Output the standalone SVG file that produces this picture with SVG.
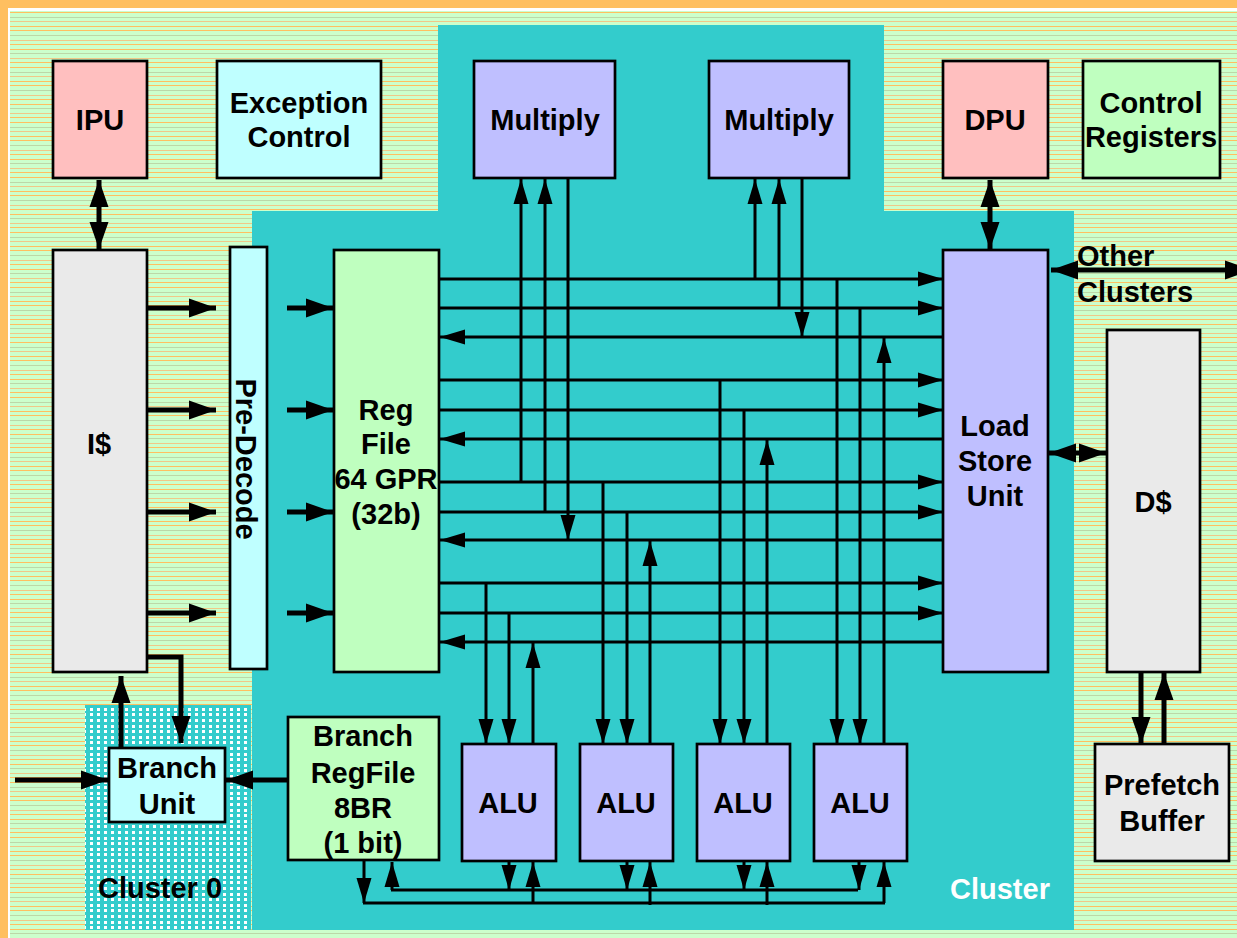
<svg xmlns="http://www.w3.org/2000/svg" width="1237" height="938" viewBox="0 0 1237 938">
<style>
.n{stroke:#000;stroke-width:2.7}
.t{font-family:"Liberation Sans",Arial,sans-serif;font-weight:700;font-size:29px;text-anchor:middle;fill:#000}
.pink{fill:#ffbfbf}.cyan{fill:#bfffff}.vio{fill:#bfbfff}.grn{fill:#bfffbf}.gry{fill:#eaeaea}
.w{fill:none;stroke:#000;stroke-width:3}
.a{marker-end:url(#h)}
.b{fill:none;stroke:#000;stroke-width:5}
.ba{marker-end:url(#H)}
.bb{marker-start:url(#Hs);marker-end:url(#H)}
.s{fill:#ffbf60}.m{fill:#f0c888}.l{fill:#bcd8a8}.d{fill:#fff}
</style>
<defs>
<pattern id="stripes" width="8" height="55" patternUnits="userSpaceOnUse" x="10" y="12">
<rect width="8" height="55" fill="#ccffcc"/>
<rect class="s" y="0" width="8" height="1"/><rect class="l" y="5" width="8" height="1"/><rect class="m" y="9" width="8" height="1"/><rect class="s" y="14" width="8" height="1"/>
<rect class="s" y="18" width="8" height="1"/><rect class="l" y="23" width="8" height="1"/><rect class="m" y="28" width="8" height="1"/><rect class="s" y="32" width="8" height="1"/>
<rect class="s" y="37" width="8" height="1"/><rect class="l" y="41" width="8" height="1"/><rect class="m" y="46" width="8" height="1"/><rect class="s" y="50" width="8" height="1"/>
</pattern>
<pattern id="dots" width="7" height="28" patternUnits="userSpaceOnUse" x="88" y="705">
<rect width="7" height="28" fill="#33cccc"/>
<rect class="d" x="2" y="3" width="3" height="3"/><rect class="d" x="2" y="8" width="3" height="3"/><rect class="d" x="2" y="14" width="3" height="3"/><rect class="d" x="2" y="20" width="3" height="3"/><rect class="d" x="2" y="25" width="3" height="3"/>
</pattern>
<marker id="h" markerUnits="userSpaceOnUse" markerWidth="26" markerHeight="16" refX="25" refY="8" orient="auto" viewBox="0 0 26 16"><path d="M0 0.5L25 8L0 15.5Z" fill="#000"/></marker>
<marker id="H" markerUnits="userSpaceOnUse" markerWidth="28" markerHeight="20" refX="27" refY="10" orient="auto" viewBox="0 0 28 20"><path d="M0 0.5L27 10L0 19.5Z" fill="#000"/></marker>
<marker id="Hs" markerUnits="userSpaceOnUse" markerWidth="28" markerHeight="20" refX="1" refY="10" orient="auto" viewBox="0 0 28 20"><path d="M28 0.5L1 10L28 19.5Z" fill="#000"/></marker>
</defs>
<rect width="1237" height="938" fill="#ffbf60"/>
<rect x="8" y="8" width="1229" height="930" fill="#fff"/>
<rect x="10" y="11" width="1227" height="927" fill="url(#stripes)"/>
<path d="M438 25H884V211H1074V930H252V211H438Z" fill="#33cccc"/>
<rect x="85" y="705" width="166" height="225" fill="url(#dots)"/>

<g id="connectors">
<g class="w">
<path class="a" d="M439 279H943"/><path class="a" d="M439 308H943"/><path class="a" d="M943 337H440"/>
<path class="a" d="M439 380H943"/><path class="a" d="M439 410H943"/><path class="a" d="M943 439H440"/>
<path class="a" d="M439 482H943"/><path class="a" d="M439 512H943"/><path class="a" d="M943 540H440"/>
<path class="a" d="M439 583H943"/><path class="a" d="M439 613H943"/><path class="a" d="M943 642H440"/>
<path class="a" d="M521 482V179"/><path class="a" d="M545 512V179"/><path class="a" d="M568 178V540"/>
<path class="a" d="M755 279V179"/><path class="a" d="M779 308V179"/><path class="a" d="M802 178V337"/>
<path class="a" d="M486 583V744"/><path class="a" d="M509 613V744"/><path class="a" d="M533 744V643"/>
<path class="a" d="M603 482V744"/><path class="a" d="M627 512V744"/><path class="a" d="M650 744V541"/>
<path class="a" d="M720 380V744"/><path class="a" d="M744 410V744"/><path class="a" d="M767 744V440"/>
<path class="a" d="M837 279V744"/><path class="a" d="M860 308V744"/><path class="a" d="M884 744V338"/>
<path d="M363 903H885"/><path d="M391 890H858"/>
<path class="a" d="M364 860V903"/><path class="a" d="M392 890V862"/>
<path class="a" d="M509 861V890"/><path class="a" d="M533 904V862"/>
<path class="a" d="M627 861V890"/><path class="a" d="M650 905V862"/>
<path class="a" d="M744 861V890"/><path class="a" d="M767 905V862"/>
<path class="a" d="M859 861V890"/><path class="a" d="M884 903V862"/>
</g>
<g class="b">
<path class="ba" d="M147 308H216"/><path class="ba" d="M147 410H216"/><path class="ba" d="M147 512H216"/><path class="ba" d="M147 613H216"/>
<path class="ba" d="M287 308H333"/><path class="ba" d="M287 410H333"/><path class="ba" d="M287 512H333"/><path class="ba" d="M287 613H333"/>
<path class="bb" d="M99 180V249"/><path class="bb" d="M990 180V249"/>
<path class="bb" d="M1051 270H1252"/>
<path class="ba" d="M1078 453H1049"/><path class="ba" d="M1078 453H1106"/>
<path class="ba" d="M1141 672V744"/><path class="ba" d="M1164 744V673"/>
<path class="ba" d="M121 748V676"/><path class="ba" d="M147 657H181V743"/>
<path class="ba" d="M15 780H108"/><path class="ba" d="M288 780H226"/>
</g>
</g>

<g id="ipu"><rect class="n pink" x="53" y="61" width="94" height="117"/><text class="t" x="100" y="130">IPU</text></g>
<g id="exception"><rect class="n cyan" x="217" y="61" width="164" height="117"/><text class="t" x="299" y="113">Exception</text><text class="t" x="299" y="147">Control</text></g>
<g id="multiply1"><rect class="n vio" x="474" y="61" width="141" height="117"/><text class="t" x="545" y="130">Multiply</text></g>
<g id="multiply2"><rect class="n vio" x="709" y="61" width="140" height="117"/><text class="t" x="779" y="130">Multiply</text></g>
<g id="dpu"><rect class="n pink" x="943" y="61" width="105" height="117"/><text class="t" x="995" y="130">DPU</text></g>
<g id="control"><rect class="n grn" x="1083" y="61" width="137" height="117"/><text class="t" x="1151" y="113">Control</text><text class="t" x="1151" y="147">Registers</text></g>
<g id="icache"><rect class="n gry" x="53" y="250" width="94" height="422"/><text class="t" x="99" y="454">I$</text></g>
<g id="predecode"><rect class="n cyan" x="230" y="247" width="37" height="422"/><text class="t" transform="translate(236 459) rotate(90)">Pre-Decode</text></g>
<g id="regfile"><rect class="n grn" x="334" y="250" width="105" height="422"/><text class="t" x="386" y="420">Reg</text><text class="t" x="386" y="454">File</text><text class="t" x="386" y="489">64 GPR</text><text class="t" x="386" y="524">(32b)</text></g>
<g id="lsu"><rect class="n vio" x="943" y="250" width="105" height="422"/><text class="t" x="995" y="436">Load</text><text class="t" x="995" y="471">Store</text><text class="t" x="995" y="506">Unit</text></g>
<g id="dcache"><rect class="n gry" x="1107" y="330" width="93" height="342"/><text class="t" x="1153" y="512">D$</text></g>
<g id="prefetch"><rect class="n gry" x="1095" y="744" width="134" height="117"/><text class="t" x="1162" y="795">Prefetch</text><text class="t" x="1162" y="831">Buffer</text></g>
<g id="branchunit"><rect class="n cyan" x="109" y="748" width="116" height="74"/><text class="t" x="167" y="778">Branch</text><text class="t" x="167" y="814">Unit</text></g>
<g id="branchregfile"><rect class="n grn" x="288" y="717" width="151" height="143"/><text class="t" x="363" y="746">Branch</text><text class="t" x="363" y="783">RegFile</text><text class="t" x="363" y="818">8BR</text><text class="t" x="363" y="853">(1 bit)</text></g>
<g id="alu1"><rect class="n vio" x="462" y="744" width="94" height="117"/><text class="t" x="508" y="813">ALU</text></g>
<g id="alu2"><rect class="n vio" x="580" y="744" width="93" height="117"/><text class="t" x="626" y="813">ALU</text></g>
<g id="alu3"><rect class="n vio" x="697" y="744" width="93" height="117"/><text class="t" x="743" y="813">ALU</text></g>
<g id="alu4"><rect class="n vio" x="814" y="744" width="93" height="117"/><text class="t" x="860" y="813">ALU</text></g>
<g id="labels">
<text class="t" style="text-anchor:start" x="1077" y="266">Other</text>
<text class="t" style="text-anchor:start" x="1077" y="302">Clusters</text>
<text class="t" x="160" y="898">Cluster 0</text>
<text class="t" x="1000" y="899" style="fill:#fff">Cluster</text>
</g>
</svg>
